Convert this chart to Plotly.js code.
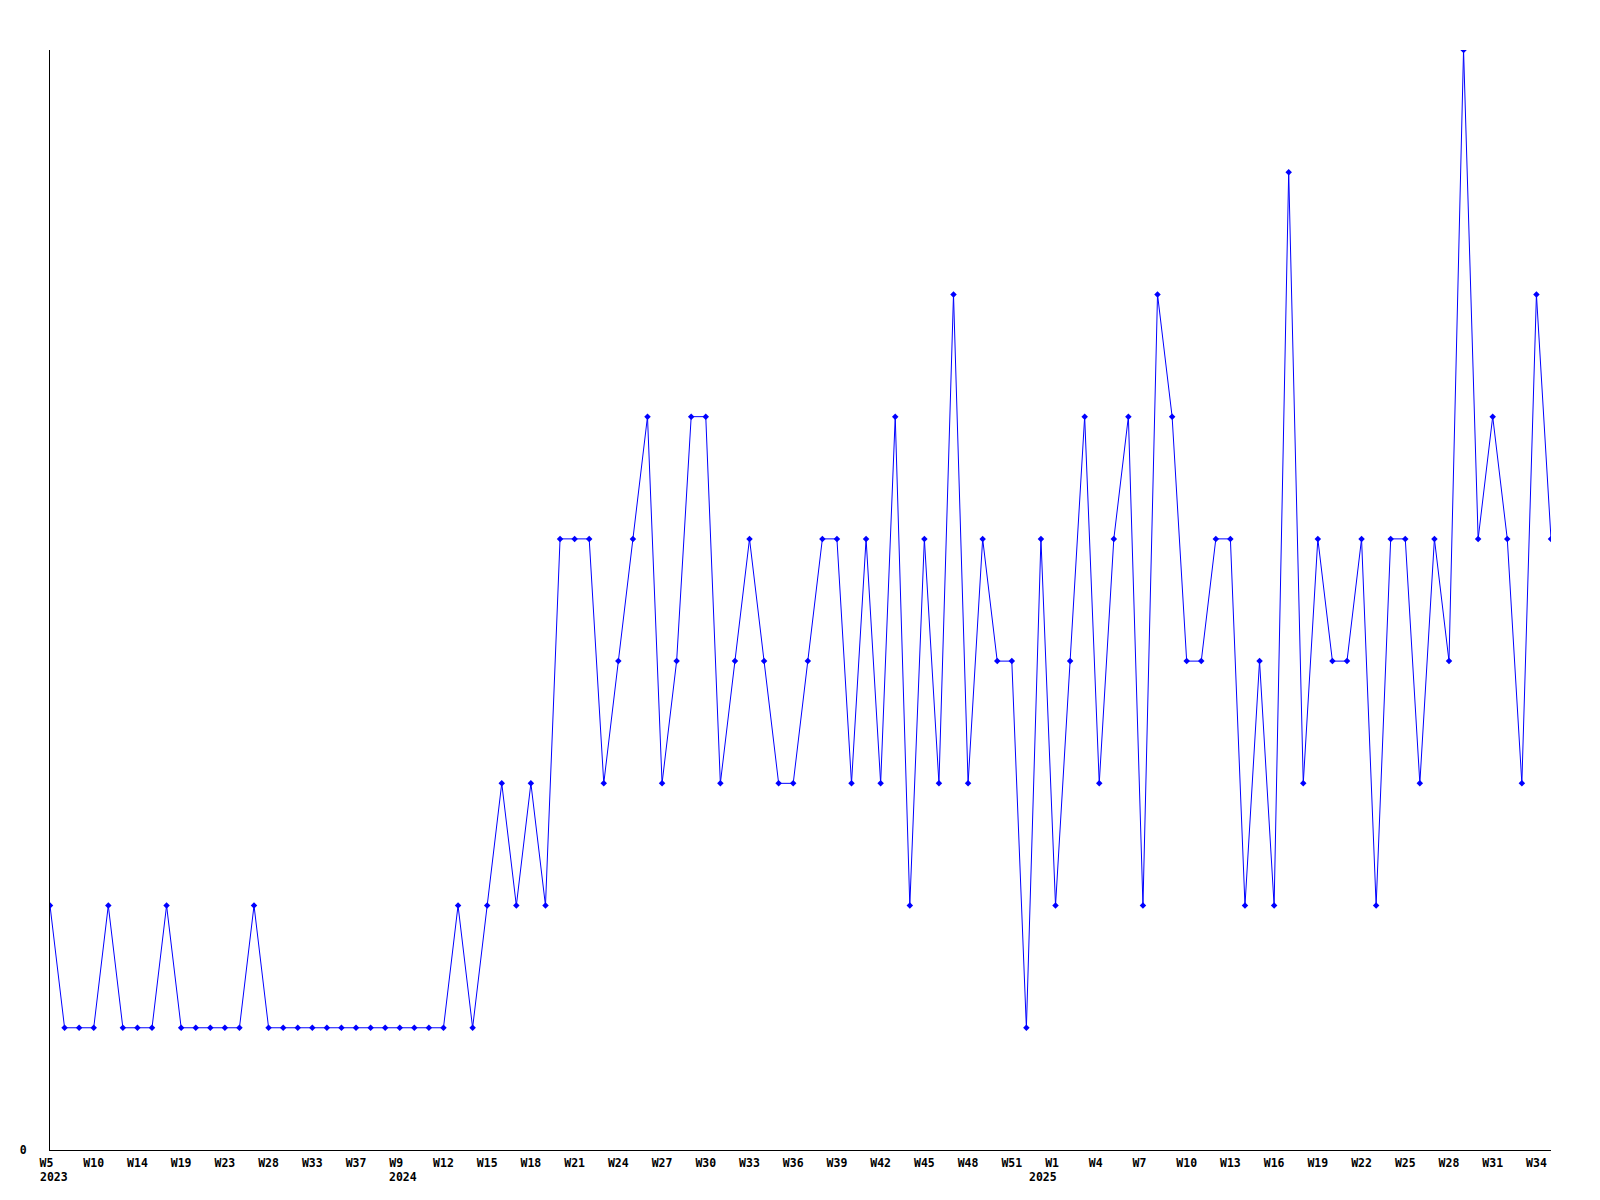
<!DOCTYPE html>
<html>
<head>
<meta charset="utf-8">
<script src="https://cdn.plot.ly/plotly-3.0.1.min.js"></script>
<style>html,body{margin:0;padding:0;background:#fff;}#chart{width:1600px;height:1200px;}</style>
</head>
<body>
<div id="chart"></div>
<script>
// Weekly values, one per point (index 0 = W5 2023 ... last = after W34 2025)
const values = [
  2,1,1,1,2,1,1,1,2,1,
  1,1,1,1,2,1,1,1,1,1,
  1,1,1,1,1,1,1,1,2,1,
  2,3,2,3,2,5,5,5,3,4,
  5,6,3,4,6,6,3,4,5,4,
  3,3,4,5,5,3,5,3,6,2,
  5,3,7,3,5,4,4,1,5,2,
  4,6,3,5,6,2,7,6,4,4,
  5,5,2,4,2,8,3,5,4,4,
  5,2,5,5,3,5,4,9,5,6,
  5,3,7,5
];
// Tick labels, one every 3 points
const tickLabels = ["W5","W10","W14","W19","W23","W28","W33","W37","W9","W12","W15","W18",
  "W21","W24","W27","W30","W33","W36","W39","W42","W45","W48","W51","W1","W4","W7",
  "W10","W13","W16","W19","W22","W25","W28","W31","W34"];
const tickStep = 3;
// Year labels and the point index they sit under
const yearLabels = ["2023","2024","2025"];
const yearIndex = [0, 24, 69];

const xs = values.map((v, i) => i);
const tickvals = tickLabels.map((t, i) => i * tickStep);
const ticktext = tickLabels.map(t => t.length < 3 ? t + "\u00a0" : t);

const fontFam = "'DejaVu Sans Mono', 'Liberation Mono', monospace";
const annotations = yearLabels.map((y, k) => ({
  x: yearIndex[k], xref: 'x', y: 0, yref: 'paper',
  text: y, showarrow: false,
  xanchor: k === 2 ? 'right' : 'left',
  xshift: k === 2 ? 3 : -12.5,
  yanchor: 'middle', yshift: -27,
  font: {family: fontFam, size: 11.5, color: '#000', weight: 'bold'}
}));

const trace = {
  x: xs, y: values, type: 'scatter', mode: 'lines+markers',
  line: {color: '#0000ff', width: 1},
  marker: {color: '#0000ff', size: 5, symbol: 'diamond'},
  hoverinfo: 'x+y'
};

const layout = {
  width: 1600, height: 1200,
  margin: {l: 50, r: 49, t: 50, b: 50, pad: 0},
  paper_bgcolor: '#fff', plot_bgcolor: '#fff',
  showlegend: false,
  xaxis: {
    range: [0, values.length - 1], showgrid: false, zeroline: false,
    showline: true, linecolor: '#000', linewidth: 1, ticks: '',
    tickmode: 'array', tickvals: tickvals, ticktext: ticktext,
    tickfont: {family: fontFam, size: 11.5, color: '#000', weight: 'bold'},
    ticklabelstandoff: 2
  },
  yaxis: {
    range: [0, 9], showgrid: false, zeroline: false,
    showline: true, linecolor: '#000', linewidth: 1, ticks: '',
    tickmode: 'array', tickvals: [0], ticktext: ['0'],
    tickfont: {family: fontFam, size: 11.5, color: '#000', weight: 'bold'},
    ticklabelstandoff: 20
  },
  annotations: annotations
};

Plotly.newPlot('chart', [trace], layout, {displayModeBar: false, staticPlot: true});
</script>
</body>
</html>
